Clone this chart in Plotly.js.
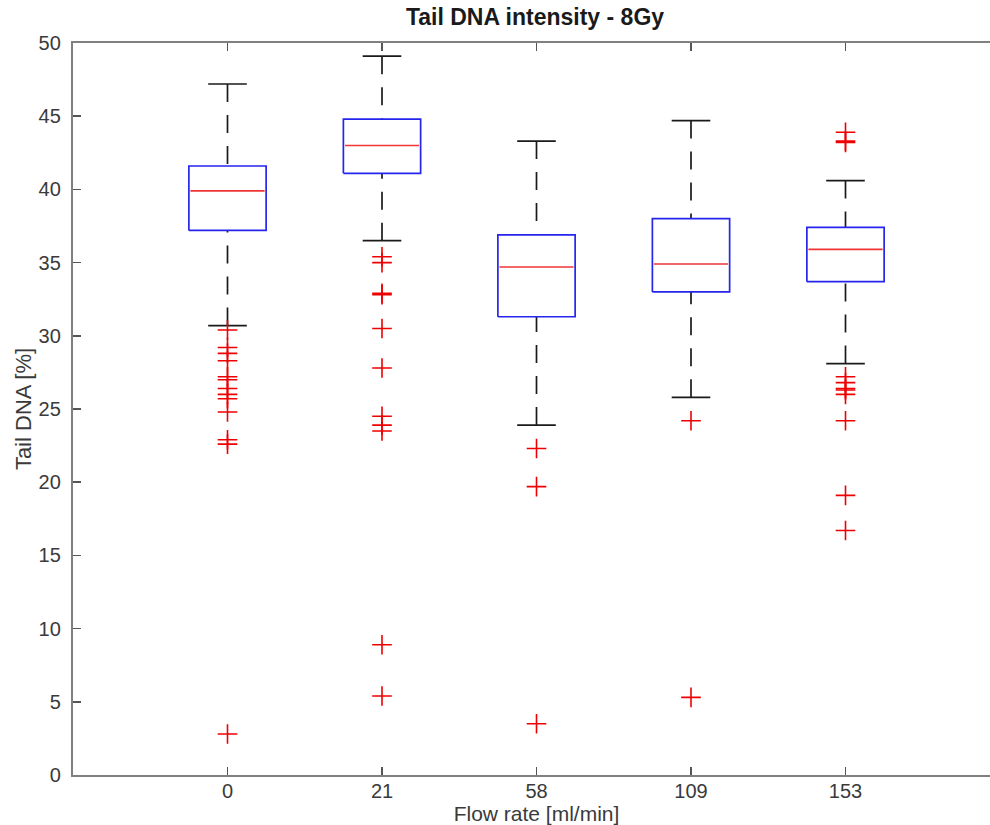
<!DOCTYPE html>
<html>
<head>
<meta charset="utf-8">
<script src="https://cdn.plot.ly/plotly-3.0.1.min.js"></script>
<style>
html,body{margin:0;padding:0;background:#fff;overflow:hidden;}
#wrap{width:990px;height:825px;overflow:hidden;position:relative;}
#chart{width:1000px;height:825px;}
</style>
</head>
<body>
<div id="wrap"><div id="chart"></div></div>
<script>
// ---- data ----
const categories = ["0", "21", "58", "109", "153"];
const positions = [1, 2, 3, 4, 5];
const q1 = [37.2, 41.1, 31.3, 33.0, 33.7];
const median = [39.9, 43.0, 34.7, 34.9, 35.9];
const q3 = [41.6, 44.8, 36.9, 38.0, 37.4];
const lowerWhisker = [30.7, 36.5, 23.9, 25.8, 28.1];
const upperWhisker = [47.2, 49.1, 43.3, 44.7, 40.6];
const outliers0 = [30.4, 29.2, 28.8, 28.3, 27.2, 27.0, 26.4, 26.0, 25.7, 24.8, 22.9, 22.6, 2.8];
const outliers21 = [35.4, 35.0, 32.9, 32.8, 30.5, 27.8, 24.5, 23.9, 23.5, 8.9, 5.4];
const outliers58 = [22.3, 19.7, 3.5];
const outliers109 = [24.2, 5.3];
const outliers153 = [43.9, 43.3, 43.2, 27.2, 26.8, 26.4, 26.3, 26.0, 24.2, 19.1, 16.7];
const yTicks = [0, 5, 10, 15, 20, 25, 30, 35, 40, 45, 50];

// ---- styling ----
const BOX_HALF = 0.25, CAP_HALF = 0.125;
const allOutliers = [outliers0, outliers21, outliers58, outliers109, outliers153];
const FONT = 'Liberation Sans, Arial, Helvetica, sans-serif';

const traces = [];

// whisker dashed lines
const wx = [], wy = [];
positions.forEach((p, i) => {
  wx.push(p, p, null, p, p, null);
  wy.push(upperWhisker[i], q3[i], null, lowerWhisker[i], q1[i], null);
});
traces.push({type: 'scatter', mode: 'lines', x: wx, y: wy,
  line: {color: '#1a1a1a', width: 1.7, dash: '18px,13px'}, hoverinfo: 'skip', showlegend: false});

// whisker caps
const cx = [], cy = [];
positions.forEach((p, i) => {
  cx.push(p - CAP_HALF, p + CAP_HALF, null, p - CAP_HALF, p + CAP_HALF, null);
  cy.push(upperWhisker[i], upperWhisker[i], null, lowerWhisker[i], lowerWhisker[i], null);
});
traces.push({type: 'scatter', mode: 'lines', x: cx, y: cy,
  line: {color: '#1a1a1a', width: 1.7}, hoverinfo: 'skip', showlegend: false});

// boxes (blue outline)
const bx = [], by = [];
positions.forEach((p, i) => {
  bx.push(p - BOX_HALF, p + BOX_HALF, p + BOX_HALF, p - BOX_HALF, p - BOX_HALF, null);
  by.push(q1[i], q1[i], q3[i], q3[i], q1[i], null);
});
traces.push({type: 'scatter', mode: 'lines', x: bx, y: by,
  line: {color: '#2525ee', width: 1.7}, hoverinfo: 'skip', showlegend: false});

// median lines
const mx = [], my = [];
positions.forEach((p, i) => {
  mx.push(p - BOX_HALF + 0.01, p + BOX_HALF - 0.01, null);
  my.push(median[i], median[i], null);
});
traces.push({type: 'scatter', mode: 'lines', x: mx, y: my,
  line: {color: '#f03535', width: 1.6}, hoverinfo: 'skip', showlegend: false});

// outliers
const ox = [], oy = [];
allOutliers.forEach((arr, i) => arr.forEach(v => { ox.push(positions[i]); oy.push(v); }));
traces.push({type: 'scatter', mode: 'markers', x: ox, y: oy,
  marker: {symbol: 'cross-thin-open', size: 14, color: '#ee0000', line: {color: '#ee0000', width: 1.6}},
  hoverinfo: 'skip', showlegend: false});

const axisFont = {family: FONT, size: 20, color: '#3a3a3a'};
const layout = {
  width: 1000, height: 825,
  margin: {l: 73, r: 0, t: 43, b: 50},
  paper_bgcolor: '#ffffff', plot_bgcolor: '#ffffff',
  showlegend: false,
  title: {text: '<b>Tail DNA intensity - 8Gy</b>', x: 535/1000, xanchor: 'center',
    y: 1 - 17/825, yanchor: 'middle',
    font: {family: FONT, size: 23, color: '#1a1a1a'}},
  xaxis: {
    range: [0, 6], tickvals: positions, ticktext: categories,
    ticks: 'inside', ticklen: 8, tickwidth: 1.5, tickcolor: '#555',
    showline: true, linecolor: '#808080', linewidth: 2.2, mirror: 'ticks',
    showgrid: false, zeroline: false, tickfont: axisFont, ticklabelstandoff: -3,
    title: {text: 'Flow rate [ml/min]', standoff: 0,
      font: {family: FONT, size: 21, color: '#3a3a3a'}}
  },
  yaxis: {
    range: [0, 50], tickvals: yTicks,
    ticks: 'inside', ticklen: 8, tickwidth: 1.5, tickcolor: '#555',
    showline: true, linecolor: '#808080', linewidth: 2.2,
    showgrid: false, zeroline: false, tickfont: axisFont, ticklabelstandoff: 6,
    title: {text: 'Tail DNA [%]', standoff: 1,
      font: {family: FONT, size: 22, color: '#3a3a3a'}}
  }
};

Plotly.newPlot('chart', traces, layout, {staticPlot: true, displayModeBar: false});
</script>
</body>
</html>
